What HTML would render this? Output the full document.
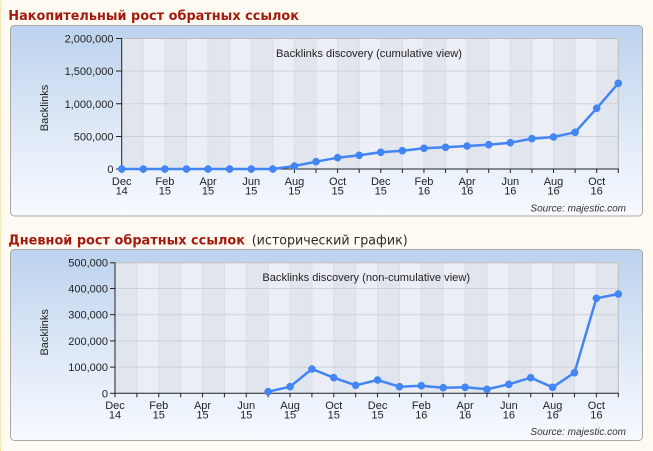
<!DOCTYPE html>
<html><head><meta charset="utf-8">
<style>
html,body{margin:0;padding:0;background:#fffbf2;}
body{width:653px;height:451px;overflow:hidden;}
svg{display:block;}
</style></head>
<body>
<svg width="653" height="451" viewBox="0 0 653 451" xmlns="http://www.w3.org/2000/svg" font-family="Liberation Sans, Arial, sans-serif">
<defs>
<linearGradient id="pg" x1="0" y1="0" x2="0" y2="1">
<stop offset="0" stop-color="#bcd2ee"/>
<stop offset="0.5" stop-color="#dce7f6"/>
<stop offset="1" stop-color="#f7faff"/>
</linearGradient>
</defs>
<rect x="0" y="0" width="653" height="451" fill="#fffbf2"/>
<line x1="0.5" y1="0" x2="0.5" y2="451" stroke="#f2d98a" stroke-width="1" stroke-dasharray="1,1"/>

<!-- Title 1 -->
<text x="8.3" y="20" font-family="DejaVu Sans, sans-serif" font-weight="bold" font-size="13" fill="#a51a0f" textLength="290.7" lengthAdjust="spacingAndGlyphs">Накопительный рост обратных ссылок</text>

<!-- Panel 1 -->
<rect x="10.5" y="25.5" width="632" height="190.5" rx="4" ry="4" fill="url(#pg)" stroke="#a8a8a8"/>

<g id="plot1">
<!-- bands -->
<g>
<rect x="121.7" y="38" width="21.59" height="131" fill="#e1e5ed"/>
<rect x="143.29" y="38" width="21.59" height="131" fill="#ebeef5"/>
<rect x="164.88" y="38" width="21.59" height="131" fill="#e1e5ed"/>
<rect x="186.47" y="38" width="21.59" height="131" fill="#ebeef5"/>
<rect x="208.06" y="38" width="21.59" height="131" fill="#e1e5ed"/>
<rect x="229.65" y="38" width="21.59" height="131" fill="#ebeef5"/>
<rect x="251.24" y="38" width="21.59" height="131" fill="#e1e5ed"/>
<rect x="272.83" y="38" width="21.59" height="131" fill="#ebeef5"/>
<rect x="294.42" y="38" width="21.59" height="131" fill="#e1e5ed"/>
<rect x="316.01" y="38" width="21.59" height="131" fill="#ebeef5"/>
<rect x="337.6" y="38" width="21.59" height="131" fill="#e1e5ed"/>
<rect x="359.19" y="38" width="21.59" height="131" fill="#ebeef5"/>
<rect x="380.78" y="38" width="21.59" height="131" fill="#e1e5ed"/>
<rect x="402.37" y="38" width="21.59" height="131" fill="#ebeef5"/>
<rect x="423.96" y="38" width="21.59" height="131" fill="#e1e5ed"/>
<rect x="445.55" y="38" width="21.59" height="131" fill="#ebeef5"/>
<rect x="467.14" y="38" width="21.59" height="131" fill="#e1e5ed"/>
<rect x="488.73" y="38" width="21.59" height="131" fill="#ebeef5"/>
<rect x="510.32" y="38" width="21.59" height="131" fill="#e1e5ed"/>
<rect x="531.91" y="38" width="21.59" height="131" fill="#ebeef5"/>
<rect x="553.5" y="38" width="21.59" height="131" fill="#e1e5ed"/>
<rect x="575.09" y="38" width="21.59" height="131" fill="#ebeef5"/>
<rect x="596.68" y="38" width="21.62" height="131" fill="#e1e5ed"/>
</g>
<!-- vertical grid -->
<g stroke="#d9dee7" stroke-width="1">
<line x1="143.29" y1="38" x2="143.29" y2="169"/><line x1="164.88" y1="38" x2="164.88" y2="169"/><line x1="186.47" y1="38" x2="186.47" y2="169"/><line x1="208.06" y1="38" x2="208.06" y2="169"/><line x1="229.65" y1="38" x2="229.65" y2="169"/><line x1="251.24" y1="38" x2="251.24" y2="169"/><line x1="272.83" y1="38" x2="272.83" y2="169"/><line x1="294.42" y1="38" x2="294.42" y2="169"/><line x1="316.01" y1="38" x2="316.01" y2="169"/><line x1="337.6" y1="38" x2="337.6" y2="169"/><line x1="359.19" y1="38" x2="359.19" y2="169"/><line x1="380.78" y1="38" x2="380.78" y2="169"/><line x1="402.37" y1="38" x2="402.37" y2="169"/><line x1="423.96" y1="38" x2="423.96" y2="169"/><line x1="445.55" y1="38" x2="445.55" y2="169"/><line x1="467.14" y1="38" x2="467.14" y2="169"/><line x1="488.73" y1="38" x2="488.73" y2="169"/><line x1="510.32" y1="38" x2="510.32" y2="169"/><line x1="531.91" y1="38" x2="531.91" y2="169"/><line x1="553.5" y1="38" x2="553.5" y2="169"/><line x1="575.09" y1="38" x2="575.09" y2="169"/><line x1="596.68" y1="38" x2="596.68" y2="169"/>
</g>
<!-- horizontal grid -->
<g stroke="#cdd1d9" stroke-width="1">
<line x1="121.7" y1="71" x2="618.3" y2="71"/>
<line x1="121.7" y1="103.75" x2="618.3" y2="103.75"/>
<line x1="121.7" y1="136.5" x2="618.3" y2="136.5"/>
</g>
<!-- border top/right -->
<line x1="121.7" y1="38.5" x2="618.3" y2="38.5" stroke="#bdbdbd"/>
<line x1="618.3" y1="38" x2="618.3" y2="169" stroke="#bdbdbd"/>
<!-- axes -->
<line x1="121.7" y1="38" x2="121.7" y2="169.5" stroke="#222"/>
<line x1="121.2" y1="169" x2="618.8" y2="169" stroke="#222"/>
<!-- y ticks -->
<g stroke="#222">
<line x1="116" y1="38.5" x2="121.7" y2="38.5"/>
<line x1="116" y1="71" x2="121.7" y2="71"/>
<line x1="116" y1="103.75" x2="121.7" y2="103.75"/>
<line x1="116" y1="136.5" x2="121.7" y2="136.5"/>
<line x1="116" y1="169" x2="121.7" y2="169"/>
</g>
<g font-size="11" fill="#222" text-anchor="end">
<text x="113.5" y="42.3">2,000,000</text>
<text x="113.5" y="75">1,500,000</text>
<text x="113.5" y="107.8">1,000,000</text>
<text x="113.5" y="140.5">500,000</text>
<text x="113.5" y="173">0</text>
</g>
<!-- x ticks -->
<g stroke="#222">
<line x1="121.7" y1="169" x2="121.7" y2="173"/><line x1="143.29" y1="169" x2="143.29" y2="173"/><line x1="164.88" y1="169" x2="164.88" y2="173"/><line x1="186.47" y1="169" x2="186.47" y2="173"/><line x1="208.06" y1="169" x2="208.06" y2="173"/><line x1="229.65" y1="169" x2="229.65" y2="173"/><line x1="251.24" y1="169" x2="251.24" y2="173"/><line x1="272.83" y1="169" x2="272.83" y2="173"/><line x1="294.42" y1="169" x2="294.42" y2="173"/><line x1="316.01" y1="169" x2="316.01" y2="173"/><line x1="337.6" y1="169" x2="337.6" y2="173"/><line x1="359.19" y1="169" x2="359.19" y2="173"/><line x1="380.78" y1="169" x2="380.78" y2="173"/><line x1="402.37" y1="169" x2="402.37" y2="173"/><line x1="423.96" y1="169" x2="423.96" y2="173"/><line x1="445.55" y1="169" x2="445.55" y2="173"/><line x1="467.14" y1="169" x2="467.14" y2="173"/><line x1="488.73" y1="169" x2="488.73" y2="173"/><line x1="510.32" y1="169" x2="510.32" y2="173"/><line x1="531.91" y1="169" x2="531.91" y2="173"/><line x1="553.5" y1="169" x2="553.5" y2="173"/><line x1="575.09" y1="169" x2="575.09" y2="173"/><line x1="596.68" y1="169" x2="596.68" y2="173"/><line x1="618.3" y1="169" x2="618.3" y2="173"/>
</g>
<g font-size="11" fill="#222" text-anchor="middle">
<text x="121.7" y="185">Dec</text><text x="121.7" y="194.5">14</text>
<text x="164.88" y="185">Feb</text><text x="164.88" y="194.5">15</text>
<text x="208.06" y="185">Apr</text><text x="208.06" y="194.5">15</text>
<text x="251.24" y="185">Jun</text><text x="251.24" y="194.5">15</text>
<text x="294.42" y="185">Aug</text><text x="294.42" y="194.5">15</text>
<text x="337.6" y="185">Oct</text><text x="337.6" y="194.5">15</text>
<text x="380.78" y="185">Dec</text><text x="380.78" y="194.5">15</text>
<text x="423.96" y="185">Feb</text><text x="423.96" y="194.5">16</text>
<text x="467.14" y="185">Apr</text><text x="467.14" y="194.5">16</text>
<text x="510.32" y="185">Jun</text><text x="510.32" y="194.5">16</text>
<text x="553.5" y="185">Aug</text><text x="553.5" y="194.5">16</text>
<text x="596.68" y="185">Oct</text><text x="596.68" y="194.5">16</text>
</g>
<text x="369" y="57" font-size="11" fill="#222" text-anchor="middle" textLength="186" lengthAdjust="spacingAndGlyphs">Backlinks discovery (cumulative view)</text>
<text transform="translate(48,108) rotate(-90)" font-size="11" fill="#222" text-anchor="middle">Backlinks</text>
<text x="626" y="211.5" font-size="10" font-style="italic" fill="#333" text-anchor="end">Source: majestic.com</text>
<!-- series -->
<polyline fill="none" stroke="#4285f4" stroke-width="2.5" stroke-linejoin="round" points="121.7,169 143.29,169 164.88,169 186.47,169 208.06,169 229.65,169 251.24,169 272.83,169 294.42,166 316.01,161.7 337.6,157.7 359.19,155.3 380.78,152.3 402.37,150.7 423.96,148.3 445.55,147.3 467.14,146 488.73,144.7 510.32,142.7 531.91,138.7 553.5,137 575.09,132.3 596.68,108.3 618.3,83.3"/>
<g fill="#4285f4">
<circle cx="121.7" cy="169" r="3.8"/><circle cx="143.29" cy="169" r="3.8"/><circle cx="164.88" cy="169" r="3.8"/><circle cx="186.47" cy="169" r="3.8"/><circle cx="208.06" cy="169" r="3.8"/><circle cx="229.65" cy="169" r="3.8"/><circle cx="251.24" cy="169" r="3.8"/><circle cx="272.83" cy="169" r="3.8"/><circle cx="294.42" cy="166" r="3.8"/><circle cx="316.01" cy="161.7" r="3.8"/><circle cx="337.6" cy="157.7" r="3.8"/><circle cx="359.19" cy="155.3" r="3.8"/><circle cx="380.78" cy="152.3" r="3.8"/><circle cx="402.37" cy="150.7" r="3.8"/><circle cx="423.96" cy="148.3" r="3.8"/><circle cx="445.55" cy="147.3" r="3.8"/><circle cx="467.14" cy="146" r="3.8"/><circle cx="488.73" cy="144.7" r="3.8"/><circle cx="510.32" cy="142.7" r="3.8"/><circle cx="531.91" cy="138.7" r="3.8"/><circle cx="553.5" cy="137" r="3.8"/><circle cx="575.09" cy="132.3" r="3.8"/><circle cx="596.68" cy="108.3" r="3.8"/><circle cx="618.3" cy="83.3" r="3.8"/>
</g>
</g>

<!-- Title 2 -->
<text x="8.3" y="244.3" font-family="DejaVu Sans, sans-serif" font-weight="bold" font-size="13" fill="#a51a0f" textLength="236.7" lengthAdjust="spacingAndGlyphs">Дневной рост обратных ссылок</text>
<text x="251.7" y="244.3" font-family="DejaVu Sans, sans-serif" font-size="13" fill="#2a2a2a" textLength="156" lengthAdjust="spacingAndGlyphs">(исторический график)</text>

<!-- Panel 2 -->
<rect x="10.5" y="249.5" width="632" height="191" rx="4" ry="4" fill="url(#pg)" stroke="#a8a8a8"/>

<g id="plot2">
<g>
<rect x="115" y="262.3" width="21.88" height="131" fill="#e1e5ed"/>
<rect x="136.88" y="262.3" width="21.88" height="131" fill="#ebeef5"/>
<rect x="158.76" y="262.3" width="21.88" height="131" fill="#e1e5ed"/>
<rect x="180.64" y="262.3" width="21.88" height="131" fill="#ebeef5"/>
<rect x="202.52" y="262.3" width="21.88" height="131" fill="#e1e5ed"/>
<rect x="224.4" y="262.3" width="21.88" height="131" fill="#ebeef5"/>
<rect x="246.28" y="262.3" width="21.88" height="131" fill="#e1e5ed"/>
<rect x="268.16" y="262.3" width="21.88" height="131" fill="#ebeef5"/>
<rect x="290.04" y="262.3" width="21.88" height="131" fill="#e1e5ed"/>
<rect x="311.92" y="262.3" width="21.88" height="131" fill="#ebeef5"/>
<rect x="333.8" y="262.3" width="21.88" height="131" fill="#e1e5ed"/>
<rect x="355.68" y="262.3" width="21.88" height="131" fill="#ebeef5"/>
<rect x="377.56" y="262.3" width="21.88" height="131" fill="#e1e5ed"/>
<rect x="399.44" y="262.3" width="21.88" height="131" fill="#ebeef5"/>
<rect x="421.32" y="262.3" width="21.88" height="131" fill="#e1e5ed"/>
<rect x="443.2" y="262.3" width="21.88" height="131" fill="#ebeef5"/>
<rect x="465.08" y="262.3" width="21.88" height="131" fill="#e1e5ed"/>
<rect x="486.96" y="262.3" width="21.88" height="131" fill="#ebeef5"/>
<rect x="508.84" y="262.3" width="21.88" height="131" fill="#e1e5ed"/>
<rect x="530.72" y="262.3" width="21.88" height="131" fill="#ebeef5"/>
<rect x="552.6" y="262.3" width="21.88" height="131" fill="#e1e5ed"/>
<rect x="574.48" y="262.3" width="21.88" height="131" fill="#ebeef5"/>
<rect x="596.36" y="262.3" width="21.94" height="131" fill="#e1e5ed"/>
</g>
<g stroke="#d9dee7" stroke-width="1">
<line x1="136.88" y1="262.3" x2="136.88" y2="393.3"/><line x1="158.76" y1="262.3" x2="158.76" y2="393.3"/><line x1="180.64" y1="262.3" x2="180.64" y2="393.3"/><line x1="202.52" y1="262.3" x2="202.52" y2="393.3"/><line x1="224.4" y1="262.3" x2="224.4" y2="393.3"/><line x1="246.28" y1="262.3" x2="246.28" y2="393.3"/><line x1="268.16" y1="262.3" x2="268.16" y2="393.3"/><line x1="290.04" y1="262.3" x2="290.04" y2="393.3"/><line x1="311.92" y1="262.3" x2="311.92" y2="393.3"/><line x1="333.8" y1="262.3" x2="333.8" y2="393.3"/><line x1="355.68" y1="262.3" x2="355.68" y2="393.3"/><line x1="377.56" y1="262.3" x2="377.56" y2="393.3"/><line x1="399.44" y1="262.3" x2="399.44" y2="393.3"/><line x1="421.32" y1="262.3" x2="421.32" y2="393.3"/><line x1="443.2" y1="262.3" x2="443.2" y2="393.3"/><line x1="465.08" y1="262.3" x2="465.08" y2="393.3"/><line x1="486.96" y1="262.3" x2="486.96" y2="393.3"/><line x1="508.84" y1="262.3" x2="508.84" y2="393.3"/><line x1="530.72" y1="262.3" x2="530.72" y2="393.3"/><line x1="552.6" y1="262.3" x2="552.6" y2="393.3"/><line x1="574.48" y1="262.3" x2="574.48" y2="393.3"/><line x1="596.36" y1="262.3" x2="596.36" y2="393.3"/>
</g>
<g stroke="#cdd1d9" stroke-width="1">
<line x1="115" y1="288.5" x2="618.3" y2="288.5"/>
<line x1="115" y1="314.7" x2="618.3" y2="314.7"/>
<line x1="115" y1="340.9" x2="618.3" y2="340.9"/>
<line x1="115" y1="367.1" x2="618.3" y2="367.1"/>
</g>
<line x1="115" y1="262.8" x2="618.3" y2="262.8" stroke="#bdbdbd"/>
<line x1="618.3" y1="262.3" x2="618.3" y2="393.3" stroke="#bdbdbd"/>
<line x1="115" y1="262.3" x2="115" y2="393.8" stroke="#222"/>
<line x1="114.5" y1="393.3" x2="618.8" y2="393.3" stroke="#222"/>
<g stroke="#222">
<line x1="110" y1="262.8" x2="115" y2="262.8"/>
<line x1="110" y1="288.5" x2="115" y2="288.5"/>
<line x1="110" y1="314.7" x2="115" y2="314.7"/>
<line x1="110" y1="340.9" x2="115" y2="340.9"/>
<line x1="110" y1="367.1" x2="115" y2="367.1"/>
<line x1="110" y1="393.3" x2="115" y2="393.3"/>
</g>
<g font-size="11" fill="#222" text-anchor="end">
<text x="108" y="266.5">500,000</text>
<text x="108" y="292.4">400,000</text>
<text x="108" y="318.7">300,000</text>
<text x="108" y="344.9">200,000</text>
<text x="108" y="371.1">100,000</text>
<text x="108" y="397.3">0</text>
</g>
<g stroke="#222">
<line x1="115" y1="393.3" x2="115" y2="397.3"/><line x1="136.88" y1="393.3" x2="136.88" y2="397.3"/><line x1="158.76" y1="393.3" x2="158.76" y2="397.3"/><line x1="180.64" y1="393.3" x2="180.64" y2="397.3"/><line x1="202.52" y1="393.3" x2="202.52" y2="397.3"/><line x1="224.4" y1="393.3" x2="224.4" y2="397.3"/><line x1="246.28" y1="393.3" x2="246.28" y2="397.3"/><line x1="268.16" y1="393.3" x2="268.16" y2="397.3"/><line x1="290.04" y1="393.3" x2="290.04" y2="397.3"/><line x1="311.92" y1="393.3" x2="311.92" y2="397.3"/><line x1="333.8" y1="393.3" x2="333.8" y2="397.3"/><line x1="355.68" y1="393.3" x2="355.68" y2="397.3"/><line x1="377.56" y1="393.3" x2="377.56" y2="397.3"/><line x1="399.44" y1="393.3" x2="399.44" y2="397.3"/><line x1="421.32" y1="393.3" x2="421.32" y2="397.3"/><line x1="443.2" y1="393.3" x2="443.2" y2="397.3"/><line x1="465.08" y1="393.3" x2="465.08" y2="397.3"/><line x1="486.96" y1="393.3" x2="486.96" y2="397.3"/><line x1="508.84" y1="393.3" x2="508.84" y2="397.3"/><line x1="530.72" y1="393.3" x2="530.72" y2="397.3"/><line x1="552.6" y1="393.3" x2="552.6" y2="397.3"/><line x1="574.48" y1="393.3" x2="574.48" y2="397.3"/><line x1="596.36" y1="393.3" x2="596.36" y2="397.3"/><line x1="618.3" y1="393.3" x2="618.3" y2="397.3"/>
</g>
<g font-size="11" fill="#222" text-anchor="middle">
<text x="115" y="409">Dec</text><text x="115" y="418.5">14</text>
<text x="158.76" y="409">Feb</text><text x="158.76" y="418.5">15</text>
<text x="202.52" y="409">Apr</text><text x="202.52" y="418.5">15</text>
<text x="246.28" y="409">Jun</text><text x="246.28" y="418.5">15</text>
<text x="290.04" y="409">Aug</text><text x="290.04" y="418.5">15</text>
<text x="333.8" y="409">Oct</text><text x="333.8" y="418.5">15</text>
<text x="377.56" y="409">Dec</text><text x="377.56" y="418.5">15</text>
<text x="421.32" y="409">Feb</text><text x="421.32" y="418.5">16</text>
<text x="465.08" y="409">Apr</text><text x="465.08" y="418.5">16</text>
<text x="508.84" y="409">Jun</text><text x="508.84" y="418.5">16</text>
<text x="552.6" y="409">Aug</text><text x="552.6" y="418.5">16</text>
<text x="596.36" y="409">Oct</text><text x="596.36" y="418.5">16</text>
</g>
<text x="366.2" y="281" font-size="11" fill="#222" text-anchor="middle" textLength="207.7" lengthAdjust="spacingAndGlyphs">Backlinks discovery (non-cumulative view)</text>
<text transform="translate(48,332.3) rotate(-90)" font-size="11" fill="#222" text-anchor="middle">Backlinks</text>
<text x="626" y="435" font-size="10" font-style="italic" fill="#333" text-anchor="end">Source: majestic.com</text>
<polyline fill="none" stroke="#4285f4" stroke-width="2.5" stroke-linejoin="round" points="268.16,391.7 290.04,386.7 311.92,369 333.8,377.7 355.68,385.3 377.56,380 399.44,386.7 421.32,385.7 443.2,387.7 465.08,387.3 486.96,389.3 508.84,384.3 530.72,377.7 552.6,387.3 574.48,372.7 596.36,298.3 618.3,294"/>
<g fill="#4285f4">
<circle cx="268.16" cy="391.7" r="3.8"/><circle cx="290.04" cy="386.7" r="3.8"/><circle cx="311.92" cy="369" r="3.8"/><circle cx="333.8" cy="377.7" r="3.8"/><circle cx="355.68" cy="385.3" r="3.8"/><circle cx="377.56" cy="380" r="3.8"/><circle cx="399.44" cy="386.7" r="3.8"/><circle cx="421.32" cy="385.7" r="3.8"/><circle cx="443.2" cy="387.7" r="3.8"/><circle cx="465.08" cy="387.3" r="3.8"/><circle cx="486.96" cy="389.3" r="3.8"/><circle cx="508.84" cy="384.3" r="3.8"/><circle cx="530.72" cy="377.7" r="3.8"/><circle cx="552.6" cy="387.3" r="3.8"/><circle cx="574.48" cy="372.7" r="3.8"/><circle cx="596.36" cy="298.3" r="3.8"/><circle cx="618.3" cy="294" r="3.8"/>
</g>
</g>
</svg>
</body></html>
